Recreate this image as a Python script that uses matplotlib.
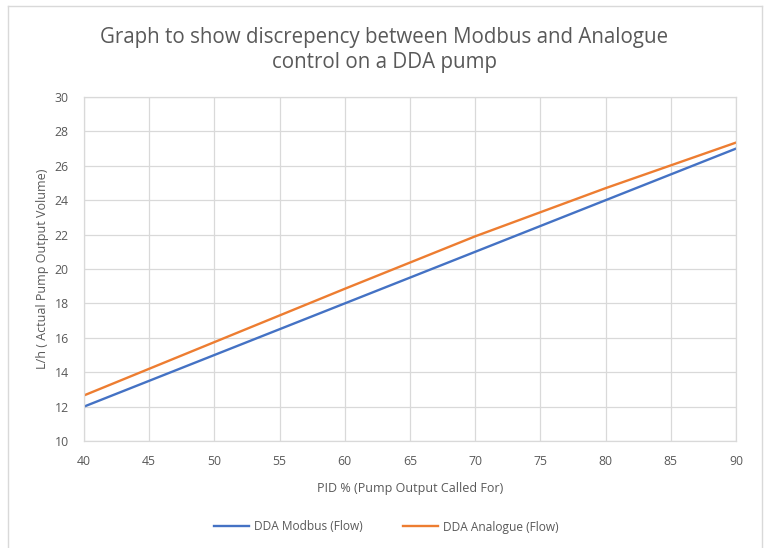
import matplotlib
matplotlib.use("Agg")
import matplotlib.pyplot as plt
from matplotlib.lines import Line2D

pid = [40, 50, 60, 70, 80, 90]
modbus = [12, 15, 18, 21, 24, 27]
analogue = [12.65, 15.75, 18.85, 21.9, 24.7, 27.35]

x_ticks = [40, 45, 50, 55, 60, 65, 70, 75, 80, 85, 90]
y_ticks = [10, 12, 14, 16, 18, 20, 22, 24, 26, 28, 30]

plt.rcParams['font.family'] = ['Open Sans', 'DejaVu Sans']
grey = '#595959'
grid = '#d9d9d9'

fig = plt.figure(figsize=(7.68, 5.48), dpi=100)
ax = fig.add_axes([84/768, 1 - 441/548, (736 - 84)/768, (441 - 97)/548])

ax.plot(pid, modbus, color='#4472C4', lw=1.7, label='DDA Modbus (Flow)')
ax.plot(pid, analogue, color='#ED7D31', lw=1.7, label='DDA Analogue (Flow)')

ax.set_xlim(40, 90)
ax.set_ylim(10, 30)
ax.set_xticks(x_ticks)
ax.set_yticks(y_ticks)
ax.grid(True, color=grid, lw=0.9)
ax.set_axisbelow(True)
for s in ax.spines.values():
    s.set_color(grid)
    s.set_linewidth(0.9)
ax.tick_params(length=0, labelsize=8.8, colors=grey)
ax.tick_params(axis='x', pad=10)
ax.tick_params(axis='y', pad=11)

ax.set_xlabel('PID % (Pump Output Called For)', fontsize=9, color=grey, labelpad=10)
ax.set_ylabel('L/h ( Actual Pump Output Volume)', fontsize=9, color=grey, labelpad=4)

fig.text(0.5, 1 - 50/548, 'Graph to show discrepency between Modbus and Analogue\ncontrol on a DDA pump',
         ha='center', va='center', fontsize=14.8, color=grey, linespacing=1.25)

fig.legend(loc='center', bbox_to_anchor=(0.503, 1 - 527/548), ncol=2, frameon=False,
           fontsize=8.6, labelcolor=grey, handlelength=2.9, columnspacing=3.4, handletextpad=0.4)

# outer chart frame, partly cut off in the screenshot
fig.add_artist(Line2D([8/768, 8/768], [0, 1 - 6/548], transform=fig.transFigure, color=grid, lw=1))
fig.add_artist(Line2D([8/768, 762/768], [1 - 6/548, 1 - 6/548], transform=fig.transFigure, color=grid, lw=1))
fig.add_artist(Line2D([762/768, 762/768], [0, 1 - 6/548], transform=fig.transFigure, color=grid, lw=1))

fig.savefig('out.png', dpi=100)
